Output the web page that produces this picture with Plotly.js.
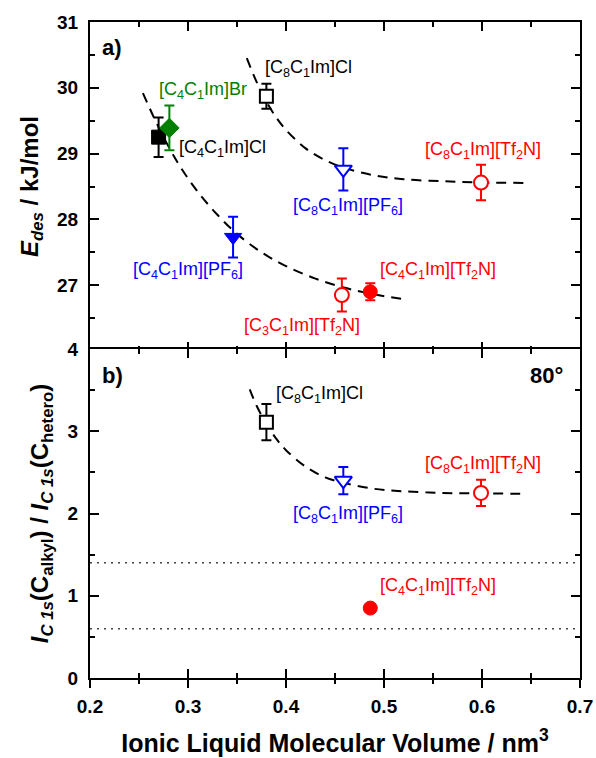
<!DOCTYPE html>
<html><head><meta charset="utf-8">
<script src="https://cdn.plot.ly/plotly-3.0.1.min.js"></script>
<style>html,body{margin:0;padding:0;background:#fff;} #chart{width:596px;height:758px;}</style>
</head><body><div id="chart"></div>
<script>
// ---------------- data ----------------
const compounds = ['[C4C1Im]Cl','[C4C1Im]Br','[C8C1Im]Cl','[C4C1Im][PF6]','[C8C1Im][PF6]','[C8C1Im][Tf2N]','[C3C1Im][Tf2N]','[C4C1Im][Tf2N]'];
const molecularVolume = [0.270, 0.281, 0.380, 0.346, 0.4585, 0.599, 0.457, 0.486];
const desorptionEnergy = [29.25, 29.39, 29.87, 27.73, 28.76, 28.56, 26.85, 26.90];
const desorptionEnergyErr = [0.30, 0.34, 0.19, 0.31, 0.32, 0.27, 0.25, 0.13];
const intensityRatio = [null, null, 3.11, null, 2.40, 2.25, null, 0.85];
const intensityRatioErr = [null, null, 0.22, null, 0.165, 0.16, null, 0];

// dashed guide-to-the-eye curves
const guideLowX  = [0.254, 0.27, 0.29, 0.31, 0.33, 0.35, 0.375, 0.40, 0.43, 0.46, 0.49, 0.523];
const guideLowY  = [29.92, 29.40, 28.85, 28.42, 28.07, 27.78, 27.50, 27.29, 27.10, 26.96, 26.86, 26.78];
const guideHighX = [0.36, 0.37, 0.38, 0.39, 0.40, 0.42, 0.44, 0.46, 0.49, 0.52, 0.56, 0.60, 0.643];
const guideHighY = [30.45, 30.09, 29.79, 29.55, 29.36, 29.08, 28.90, 28.78, 28.67, 28.61, 28.58, 28.56, 28.555];
const guideRatioX = [0.363, 0.37, 0.38, 0.39, 0.40, 0.42, 0.44, 0.46, 0.49, 0.52, 0.56, 0.60, 0.643];
const guideRatioY = [3.51, 3.31, 3.09, 2.91, 2.77, 2.57, 2.44, 2.37, 2.30, 2.27, 2.25, 2.245, 2.24];

// dotted reference levels in panel b
const ratioLevels = [1.4, 0.6];

// ticks
const xTickVals = [0.2, 0.3, 0.4, 0.5, 0.6, 0.7];
const xMinorVals = [0.25, 0.35, 0.45, 0.55, 0.65];
const eTickVals = [26, 27, 28, 29, 30, 31];
const eTickText = ['', '27', '28', '29', '30', '31'];
const eMinorVals = [26.5, 27.5, 28.5, 29.5, 30.5];
const rTickVals = [0, 1, 2, 3, 4];
const rMinorVals = [0.5, 1.5, 2.5, 3.5];

// ---------------- styles & label placement ----------------
const FONT = 'Arial, "Liberation Sans", sans-serif';
const colors  = ['#000000','#008000','#000000','#0000ff','#0000ff','#ff0000','#ff0000','#ff0000'];
const symbols = ['square','diamond','square','triangle-down','triangle-down','circle','circle','circle'];
const filled  = [true, true, false, true, false, false, false, true];
const msize   = [14, 15, 13, 15, 15, 14, 14, 14];
// label text centres (data coords)
const labelPosTop = [[0.335,29.08],[0.315,29.96],[0.4225,30.30],[0.300,27.22],[0.4628,28.19],[0.601,29.05],[0.416,26.38],[0.555,27.22]];
const labelPosBot = {2:[0.434,3.45], 4:[0.4628,1.99], 5:[0.601,2.60], 7:[0.555,1.11]};

function toHtml(name){ return name.replace(/([A-Za-z])(\d)/g, '$1<sub>$2</sub>'); }

const traces = [];
ratioLevels.forEach(v => traces.push({
  x:[0.2,0.7], y:[v,v], xaxis:'x2', yaxis:'y2', mode:'lines',
  line:{color:'#444', width:1.5, dash:'2px,5px'}, hoverinfo:'skip', showlegend:false
}));
[[guideLowX,guideLowY,'x','y'],[guideHighX,guideHighY,'x','y'],[guideRatioX,guideRatioY,'x2','y2']].forEach(g => traces.push({
  x:g[0], y:g[1], xaxis:g[2], yaxis:g[3], mode:'lines', line:{color:'#000', width:2, dash:'10px,7px', shape:'spline'},
  hoverinfo:'skip', showlegend:false
}));

function pointTrace(i, yv, err, xa, ya){
  return {
    x:[molecularVolume[i]], y:[yv], xaxis:xa, yaxis:ya, mode:'markers', showlegend:false,
    marker:{symbol:symbols[i], size:msize[i], color: filled[i] ? colors[i] : '#ffffff',
            line:{color:colors[i], width: filled[i] ? 1 : 2}},
    error_y:{type:'data', array:[err], visible: err > 0, color:colors[i], thickness:2, width:5}
  };
}
compounds.forEach((c,i) => traces.push(pointTrace(i, desorptionEnergy[i], desorptionEnergyErr[i], 'x', 'y')));
compounds.forEach((c,i) => { if (intensityRatio[i] !== null) traces.push(pointTrace(i, intensityRatio[i], intensityRatioErr[i], 'x2', 'y2')); });
// carrier for the overlay axis with crossing ticks
traces.push({x:[0.2], y:[0], xaxis:'x3', yaxis:'y2', mode:'markers', marker:{opacity:0}, hoverinfo:'skip', showlegend:false});

const annotations = [];
compounds.forEach((c,i) => annotations.push({
  xref:'x', yref:'y', x:labelPosTop[i][0], y:labelPosTop[i][1], text:toHtml(c), showarrow:false,
  xanchor:'center', yanchor:'middle', font:{family:FONT, size:18, color:colors[i]}
}));
Object.keys(labelPosBot).forEach(k => { const i = +k; annotations.push({
  xref:'x2', yref:'y2', x:labelPosBot[k][0], y:labelPosBot[k][1], text:toHtml(compounds[i]), showarrow:false,
  xanchor:'center', yanchor:'middle', font:{family:FONT, size:18, color:colors[i]}
}); });
annotations.push({xref:'x domain', yref:'y domain', x:0.02, y:0.924, text:'<b>a)</b>', showarrow:false, xanchor:'left', yanchor:'middle', font:{family:FONT, size:22, color:'#000'}});
annotations.push({xref:'x2 domain', yref:'y2 domain', x:0.02, y:0.92, text:'<b>b)</b>', showarrow:false, xanchor:'left', yanchor:'middle', font:{family:FONT, size:22, color:'#000'}});
annotations.push({xref:'x2 domain', yref:'y2 domain', x:0.97, y:0.92, text:'<b>80°</b>', showarrow:false, xanchor:'right', yanchor:'middle', font:{family:FONT, size:22, color:'#000'}});

const tickFont = {family:FONT, size:19, color:'#000', weight:'bold'};
const baseX = {range:[0.2,0.7], tickvals:xTickVals, showline:true, linewidth:2, linecolor:'#000', showgrid:false, zeroline:false,
  ticks:'inside', ticklen:9, tickwidth:2, tickcolor:'#000', mirror:'ticks', showticklabels:false,
  minor:{tickvals:xMinorVals, ticks:'inside', ticklen:5, tickwidth:2, tickcolor:'#000', showgrid:false}};
const baseY = {showline:true, linewidth:2, linecolor:'#000', showgrid:false, zeroline:false,
  ticks:'inside', ticklen:9, tickwidth:2, tickcolor:'#000', mirror:'ticks', tickfont:tickFont, ticklabelstandoff:6};

const plotH = 758 - 22 - 80;
const layout = {
  width:596, height:758, margin:{l:90, r:16, t:22, b:80}, paper_bgcolor:'#fff', plot_bgcolor:'#fff',
  font:{family:FONT, color:'#000'},
  xaxis: Object.assign({}, baseX, {domain:[0,1], anchor:'y'}),
  xaxis2: Object.assign({}, baseX, {domain:[0,1], anchor:'y2'}),
  xaxis3: {overlaying:'x2', anchor:'y2', side:'bottom', range:[0.2,0.7], tickvals:xTickVals, tickformat:'.1f',
    showline:false, showgrid:false, zeroline:false, ticks:'outside', ticklen:9, tickwidth:2, tickcolor:'#000',
    tickfont:tickFont, ticklabelstandoff:2,
    minor:{tickvals:xMinorVals, ticks:'outside', ticklen:5, tickwidth:2, tickcolor:'#000', showgrid:false},
    title:{text:'<b>Ionic Liquid Molecular Volume / nm<sup>3</sup></b>', font:{family:FONT, size:25, color:'#000'}, standoff:18}},
  yaxis: Object.assign({}, baseY, {domain:[0.5 - 1/plotH, 1], anchor:'x', range:[26,31], tickvals:eTickVals, ticktext:eTickText,
    minor:{tickvals:eMinorVals, ticks:'inside', ticklen:5, tickwidth:2, tickcolor:'#000', showgrid:false},
    title:{text:'<b><i>E</i><sub><i>des</i></sub> / kJ/mol</b>', font:{family:FONT, size:24, color:'#000'}, standoff:12}}),
  yaxis2: Object.assign({}, baseY, {domain:[0, 0.5 + 1/plotH], anchor:'x2', range:[0,4], tickvals:rTickVals,
    minor:{tickvals:rMinorVals, ticks:'inside', ticklen:5, tickwidth:2, tickcolor:'#000', showgrid:false},
    title:{text:'<b><i>I</i><sub><i>C 1s</i></sub>(C<sub>alkyl</sub>) / <i>I</i><sub><i>C 1s</i></sub>(C<sub>hetero</sub>)</b>', font:{family:FONT, size:24, color:'#000'}, standoff:12}}),
  annotations: annotations
};

Plotly.newPlot('chart', traces, layout, {staticPlot:true, displayModeBar:false});
</script></body></html>
